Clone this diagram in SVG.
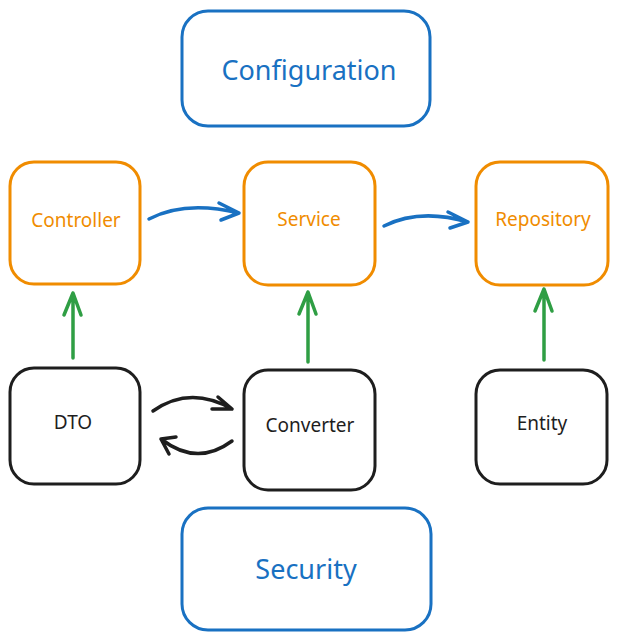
<svg xmlns="http://www.w3.org/2000/svg" width="618" height="638" viewBox="0 0 618 638">
<style>
.box{fill:#fff;stroke-width:3;stroke-linejoin:round}
.blue{stroke:#1971c2}
.orange{stroke:#f08c00}
.black{stroke:#1e1e1e}
text{font-family:"Noto Sans","Open Sans",sans-serif;text-anchor:middle;dominant-baseline:central}
.big{font-size:27px;fill:#1971c2}
.mid{font-size:19px}
.ot{fill:#f08c00}
.bt{fill:#1e1e1e}
.conn path{fill:none;stroke-width:3.5;stroke-linecap:round;stroke-linejoin:round}
.ab{stroke:#1971c2}
.ag{stroke:#2f9e44}
.ak{stroke:#1e1e1e}
</style>
<rect width="618" height="638" fill="#fff"/>
<g id="configuration"><rect class="box blue" x="182" y="11" width="248" height="115" rx="26"/><text class="big" x="309" y="69">Configuration</text></g>
<g id="controller"><rect class="box orange" x="10" y="162" width="130" height="122" rx="24"/><text class="mid ot" x="76" y="220">Controller</text></g>
<g id="service"><rect class="box orange" x="244" y="162" width="131" height="123" rx="24"/><text class="mid ot" x="309" y="219">Service</text></g>
<g id="repository"><rect class="box orange" x="476" y="162" width="132" height="123" rx="24"/><text class="mid ot" x="543" y="219">Repository</text></g>
<g id="dto"><rect class="box black" x="10" y="368" width="130" height="116" rx="24"/><text class="mid bt" x="73" y="422">DTO</text></g>
<g id="converter"><rect class="box black" x="244" y="370" width="131" height="120" rx="24"/><text class="mid bt" x="310" y="425">Converter</text></g>
<g id="entity"><rect class="box black" x="476" y="370" width="131" height="114" rx="24"/><text class="mid bt" x="542" y="423">Entity</text></g>
<g id="security"><rect class="box blue" x="182" y="508" width="249" height="122" rx="26"/><text class="big" x="306" y="568">Security</text></g>
<g id="connectors" class="conn">
<path class="ab" d="M149 219 Q185 200 239 213 M219 203 L239 213 L221 220"/>
<path class="ab" d="M384 226 Q420 208 468 222 M448 212 L468 222 L450 228"/>
<path class="ag" d="M73 358 L73 293 M64 315 L73 293 L81 315"/>
<path class="ag" d="M308 362 L308 292 M299 314 L308 292 L316 314"/>
<path class="ag" d="M544 360 L544 289 M535 311 L544 289 L552 311"/>
<path class="ak" d="M153 411 Q190 385 232 409 M218 397 L232 409 L212 409"/>
<path class="ak" d="M232 441 Q197 467 161 439 M176 437 L161 439 L169 454"/>
</g>
</svg>
